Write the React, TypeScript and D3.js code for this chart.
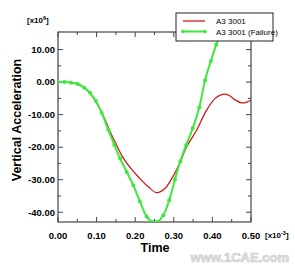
import React from 'react';
import * as d3 from 'd3';

// time [x10^-3] and vertical acceleration [x10^6]
const redTime = [0, 0.03, 0.05, 0.07, 0.09, 0.11, 0.123, 0.135, 0.148, 0.165, 0.182, 0.208, 0.234, 0.256, 0.277, 0.292, 0.307, 0.32, 0.333, 0.359, 0.385, 0.407, 0.422, 0.433, 0.445, 0.458, 0.476, 0.49, 0.5];
const redAccel = [0, -0.1, -0.5, -1.9, -4.5, -8.5, -11.8, -15.3, -18.4, -22.5, -25.5, -29.1, -32.2, -34, -32.7, -30.2, -27, -23.6, -19.9, -14.8, -8.6, -5, -3.9, -3.7, -4.2, -5.4, -6.4, -6.1, -5.5];

const greenTime = [0, 0.017, 0.034, 0.051, 0.068, 0.083, 0.098, 0.113, 0.13, 0.146, 0.161, 0.178, 0.195, 0.212, 0.23, 0.245, 0.256, 0.273, 0.288, 0.303, 0.317, 0.332, 0.349, 0.366, 0.381, 0.396, 0.41, 0.425];
const greenAccel = [0, 0, -0.2, -0.6, -1.7, -3.3, -5.8, -9.4, -14.6, -19.3, -23.5, -27.6, -31.7, -36.6, -41.4, -43, -43, -40.9, -36.3, -29.9, -24.3, -19.4, -14.2, -7.8, 0.6, 6.5, 11.5, 16.5];

const xTicks = [0, 0.1, 0.2, 0.3, 0.4, 0.5];
const yTicks = [10, 0, -10, -20, -30, -40];
const seriesNames = ['A3 3001', 'A3 3001 (Failure)'];

const RED = '#d01818';
const GREEN = '#3ee83e';
const FONT = '"Liberation Sans", Arial, sans-serif';

export default function App() {
  const W = 295, H = 264;
  const m = { left: 58, right: 251, top: 32, bottom: 222 };
  const x = d3.scaleLinear().domain([0, 0.5]).range([m.left, m.right]);
  const y = d3.scaleLinear().domain([-43, 15.4]).range([m.bottom, m.top]);

  const redPts = redTime.map((t, i) => [t, redAccel[i]] as [number, number]);
  const greenPts = greenTime.map((t, i) => [t, greenAccel[i]] as [number, number]);
  const line = d3.line<[number, number]>().x(d => x(d[0])).y(d => y(d[1])).curve(d3.curveCatmullRom);

  const xMinor = d3.range(0.05, 0.5, 0.1);
  const yMinor = d3.range(-35, 15, 10);
  const axisColor = '#444';

  return (
    <svg width={W} height={H} style={{ position: 'absolute', left: 0, top: 0, background: '#fff' }} fontFamily={FONT}>
      <defs>
        <clipPath id="plot">
          <rect x={m.left} y={m.top} width={m.right - m.left} height={m.bottom - m.top} />
        </clipPath>
      </defs>

      {/* frame */}
      <rect x={m.left} y={m.top} width={m.right - m.left} height={m.bottom - m.top} fill="none" stroke={axisColor} strokeWidth={1.2} />

      {/* x ticks bottom and top */}
      {xTicks.map(t => (
        <g key={'x' + t}>
          <line x1={x(t)} x2={x(t)} y1={m.bottom} y2={m.bottom - 5} stroke={axisColor} />
          <line x1={x(t)} x2={x(t)} y1={m.top} y2={m.top + 5} stroke={axisColor} />
          <text x={x(t)} y={239} fontSize={9.5} fontWeight="bold" textAnchor="middle">{t.toFixed(2)}</text>
        </g>
      ))}
      {xMinor.map(t => (
        <g key={'xm' + t}>
          <line x1={x(t)} x2={x(t)} y1={m.bottom} y2={m.bottom - 3} stroke={axisColor} />
          <line x1={x(t)} x2={x(t)} y1={m.top} y2={m.top + 3} stroke={axisColor} />
        </g>
      ))}

      {/* y ticks left and right */}
      {yTicks.map(v => (
        <g key={'y' + v}>
          <line x1={m.left} x2={m.left + 5} y1={y(v)} y2={y(v)} stroke={axisColor} />
          <line x1={m.right} x2={m.right - 5} y1={y(v)} y2={y(v)} stroke={axisColor} />
          <text x={55} y={y(v) + 3.3} fontSize={9.5} fontWeight="bold" textAnchor="end">{v.toFixed(2)}</text>
        </g>
      ))}
      {yMinor.map(v => (
        <g key={'ym' + v}>
          <line x1={m.left} x2={m.left + 3} y1={y(v)} y2={y(v)} stroke={axisColor} />
          <line x1={m.right} x2={m.right - 3} y1={y(v)} y2={y(v)} stroke={axisColor} />
        </g>
      ))}

      {/* scale factors */}
      <text x={27} y={23} fontSize={8} fontWeight="bold">[x10<tspan dy={-3} fontSize={5.5}>6</tspan><tspan dy={3}>]</tspan></text>
      <text x={265} y={238} fontSize={8} fontWeight="bold">[x10<tspan dy={-3} fontSize={5.5}>-3</tspan><tspan dy={3}>]</tspan></text>

      {/* axis titles */}
      <text x={155} y={252} fontSize={12.5} fontWeight="bold" textAnchor="middle">Time</text>
      <text transform="translate(21,120) rotate(-90)" fontSize={12.5} fontWeight="bold" textAnchor="middle">Vertical Acceleration</text>

      {/* series */}
      <g clipPath="url(#plot)">
        <path d={line(redPts) ?? ''} fill="none" stroke={RED} strokeWidth={1.3} />
        <path d={line(greenPts) ?? ''} fill="none" stroke={GREEN} strokeWidth={2} />
        {greenPts.map((d, i) => (
          <circle key={i} cx={x(d[0])} cy={y(d[1])} r={2} fill={GREEN} />
        ))}
      </g>

      {/* legend */}
      <g>
        <rect x={176} y={13} width={97} height={28} fill="#fff" stroke="#222" strokeWidth={1} />
        <line x1={183} x2={205} y1={21} y2={21} stroke={RED} strokeWidth={1.3} />
        <line x1={183} x2={205} y1={31.5} y2={31.5} stroke={GREEN} strokeWidth={2} />
        <circle cx={183} cy={31.5} r={1.8} fill={GREEN} />
        <circle cx={205} cy={31.5} r={1.8} fill={GREEN} />
        <text x={216} y={24} fontSize={8}>{seriesNames[0]}</text>
        <text x={216} y={34.5} fontSize={8}>{seriesNames[1]}</text>
      </g>

      {/* watermark */}
      <text x={289} y={262} fontSize={13} fontWeight="bold" textAnchor="end" fill="#e4e4e4" stroke="#c8c8c8" strokeWidth={0.6}>www.1CAE.com</text>
    </svg>
  );
}
